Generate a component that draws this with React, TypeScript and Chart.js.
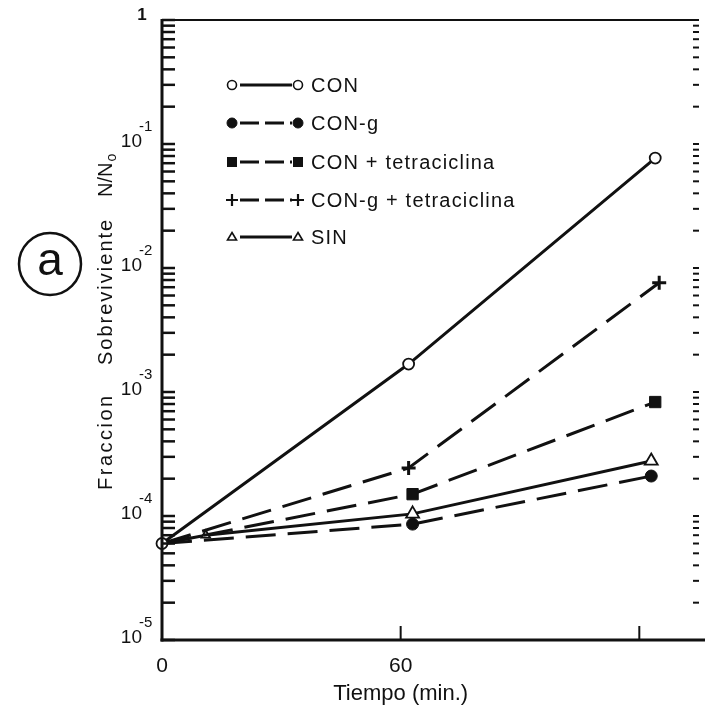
import { useEffect, useRef } from 'react';
import { Chart, registerables } from 'chart.js';

Chart.register(...registerables);

// Survival fraction N/No versus time (min) for each treatment
const seriesNames = ['CON', 'CON-g', 'CON + tetraciclina', 'CON-g + tetraciclina', 'SIN'];

const conTimes = [0, 62, 124];
const conValues = [6.0e-5, 1.68e-3, 7.7e-2];

const conGTimes = [0, 63, 123];
const conGValues = [6.0e-5, 8.6e-5, 2.1e-4];

const conTetraTimes = [0, 63, 124];
const conTetraValues = [6.0e-5, 1.5e-4, 8.3e-4];

const conGTetraTimes = [0, 62, 125];
const conGTetraValues = [6.0e-5, 2.44e-4, 7.6e-3];

const sinTimes = [0, 11, 63, 123];
const sinValues = [6.0e-5, 7.0e-5, 1.04e-4, 2.78e-4];

// Axis ticks
const xTickValues = [0, 60, 120];
const xTickLabels = ['0', '60', ''];
const yDecadeValues = [1e-5, 1e-4, 1e-3, 1e-2, 1e-1, 1];
const yDecadeExponents = ['-5', '-4', '-3', '-2', '-1', ''];
const yMantissas = [2, 3, 4, 5, 6, 7, 8, 9];

const INK = '#111';
const FONT = '"Liberation Sans", Arial, sans-serif';
const DASH = [30, 12];

const toPoints = (xs: number[], ys: number[]) => xs.map((x, i) => ({ x, y: ys[i] }));

type MarkerStyle = 'circle' | 'rect' | 'cross' | 'triangle';

function drawMarker(
  ctx: CanvasRenderingContext2D,
  style: MarkerStyle,
  x: number,
  y: number,
  r: number,
  filled: boolean,
  lw: number
) {
  ctx.save();
  ctx.setLineDash([]);
  ctx.lineWidth = lw;
  ctx.strokeStyle = INK;
  ctx.fillStyle = filled ? INK : '#fff';
  ctx.beginPath();
  if (style === 'circle') {
    ctx.arc(x, y, r, 0, Math.PI * 2);
    ctx.fill();
    ctx.stroke();
  } else if (style === 'rect') {
    ctx.rect(x - r, y - r, 2 * r, 2 * r);
    ctx.fill();
  } else if (style === 'cross') {
    ctx.moveTo(x - r, y);
    ctx.lineTo(x + r, y);
    ctx.moveTo(x, y - r);
    ctx.lineTo(x, y + r);
    ctx.stroke();
  } else {
    const h = r * 1.5;
    ctx.moveTo(x, y - h * 0.6);
    ctx.lineTo(x + r * 0.9, y + h * 0.4);
    ctx.lineTo(x - r * 0.9, y + h * 0.4);
    ctx.closePath();
    ctx.fill();
    ctx.stroke();
  }
  ctx.restore();
}

const legendRowsY = [85, 123, 162, 200, 237];
const legendMarkers: { style: MarkerStyle; filled: boolean; r: number; lw: number; dashed: boolean }[] = [
  { style: 'circle', filled: false, r: 4.5, lw: 1.6, dashed: false },
  { style: 'circle', filled: true, r: 5, lw: 1, dashed: true },
  { style: 'rect', filled: true, r: 5, lw: 1, dashed: true },
  { style: 'cross', filled: true, r: 6, lw: 2.2, dashed: true },
  { style: 'triangle', filled: false, r: 5, lw: 1.6, dashed: false },
];

const decorPlugin = {
  id: 'decor',
  afterDraw(chart: any) {
    const { ctx, chartArea: a, scales } = chart;
    const xs = scales.x;
    const ys = scales.y;
    const line = (x1: number, y1: number, x2: number, y2: number) => {
      ctx.beginPath();
      ctx.moveTo(x1, y1);
      ctx.lineTo(x2, y2);
      ctx.stroke();
    };
    ctx.save();
    ctx.strokeStyle = INK;
    ctx.fillStyle = INK;
    ctx.setLineDash([]);

    // Frame
    ctx.lineWidth = 3;
    line(a.left, a.top - 1, a.left, a.bottom + 1.5);
    line(a.left - 1.5, a.bottom, chart.width, a.bottom);
    ctx.lineWidth = 2;
    line(a.left, a.top, a.right, a.top);

    // Logarithmic ticks, inward on the left, short marks on the right
    yDecadeValues.forEach((d, di) => {
      const vals = [d];
      if (di < yDecadeValues.length - 1) yMantissas.forEach((m) => vals.push(m * d));
      vals.forEach((v) => {
        const py = ys.getPixelForValue(v);
        ctx.lineWidth = 2.5;
        line(a.left, py, a.left + 13, py);
        ctx.lineWidth = 2;
        line(a.right - 2, py, a.right + 4, py);
      });
    });

    // Decade labels
    ctx.textBaseline = 'alphabetic';
    yDecadeValues.forEach((v, i) => {
      const py = ys.getPixelForValue(v);
      if (yDecadeExponents[i] === '') {
        ctx.font = `bold 17px ${FONT}`;
        ctx.textAlign = 'center';
        ctx.fillText('1', 142, py);
        return;
      }
      ctx.font = `19px ${FONT}`;
      ctx.textAlign = 'right';
      ctx.fillText('10', 142, py + 3);
      ctx.font = `15px ${FONT}`;
      ctx.textAlign = 'left';
      ctx.fillText(yDecadeExponents[i], 139, py - 13);
    });

    // Time ticks and labels
    ctx.font = `21px ${FONT}`;
    ctx.textAlign = 'center';
    xTickValues.forEach((v, i) => {
      const px = xs.getPixelForValue(v);
      if (v > 0) {
        ctx.lineWidth = 2;
        line(px, a.bottom, px, a.bottom - 14);
      }
      if (xTickLabels[i]) ctx.fillText(xTickLabels[i], px, 672);
    });

    // Axis titles
    ctx.font = `22px ${FONT}`;
    ctx.fillText('Tiempo (min.)', xs.getPixelForValue(60), 700);

    ctx.save();
    ctx.translate(112, 490);
    ctx.rotate(-Math.PI / 2);
    ctx.textAlign = 'left';
    ctx.font = `20px ${FONT}`;
    (ctx as any).letterSpacing = '2.5px';
    ctx.fillText('Fraccion', 0, 0);
    (ctx as any).letterSpacing = '2px';
    ctx.fillText('Sobreviviente', 125, 0);
    (ctx as any).letterSpacing = '0px';
    ctx.fillText('N/N', 293, 0);
    const w = ctx.measureText('N/N').width;
    ctx.font = `14px ${FONT}`;
    ctx.fillText('o', 293 + w + 1, 4);
    ctx.restore();

    // Legend
    const x1 = 232;
    const x2 = 298;
    chart.data.datasets.forEach((ds: any, i: number) => {
      const y = legendRowsY[i];
      const m = legendMarkers[i];
      ctx.lineWidth = 3;
      ctx.setLineDash(m.dashed ? [19, 6] : []);
      line(x1 + 8, y, x2 - 6, y);
      ctx.setLineDash([]);
      drawMarker(ctx, m.style, x1, y, m.r, m.filled, m.lw);
      drawMarker(ctx, m.style, x2, y, m.r, m.filled, m.lw);
      ctx.font = `20px ${FONT}`;
      ctx.textAlign = 'left';
      ctx.textBaseline = 'middle';
      (ctx as any).letterSpacing = '1.2px';
      ctx.fillText(ds.label, x2 + 13, y + 1);
      (ctx as any).letterSpacing = '0px';
    });

    // Panel label
    ctx.lineWidth = 2.5;
    ctx.beginPath();
    ctx.arc(50, 264, 31, 0, Math.PI * 2);
    ctx.stroke();
    ctx.font = `46px ${FONT}`;
    ctx.textAlign = 'center';
    ctx.textBaseline = 'middle';
    ctx.fillText('a', 50, 262);

    ctx.restore();
  },
};

export default function App() {
  const ref = useRef<HTMLCanvasElement>(null);

  useEffect(() => {
    const common = {
      borderColor: INK,
      borderWidth: 3,
      pointBorderColor: INK,
      tension: 0,
      clip: false as any,
    };
    const chart = new Chart(ref.current!, {
      type: 'line',
      data: {
        datasets: [
          {
            ...common,
            label: seriesNames[0],
            data: toPoints(conTimes, conValues),
            pointStyle: 'circle',
            pointRadius: 5.5,
            pointBackgroundColor: '#fff',
            pointBorderWidth: 1.8,
          },
          {
            ...common,
            label: seriesNames[1],
            data: toPoints(conGTimes, conGValues),
            borderDash: DASH,
            pointStyle: 'circle',
            pointRadius: [0, 6, 6],
            pointBackgroundColor: INK,
            pointBorderWidth: 1,
          },
          {
            ...common,
            label: seriesNames[2],
            data: toPoints(conTetraTimes, conTetraValues),
            borderDash: DASH,
            pointStyle: 'rect',
            pointRadius: [0, 8, 8],
            pointBackgroundColor: INK,
            pointBorderWidth: 1,
          },
          {
            ...common,
            label: seriesNames[3],
            data: toPoints(conGTetraTimes, conGTetraValues),
            borderDash: DASH,
            pointStyle: 'cross',
            pointRadius: [0, 7, 7],
            pointBorderWidth: 3,
          },
          {
            ...common,
            label: seriesNames[4],
            data: toPoints(sinTimes, sinValues),
            pointStyle: 'triangle',
            pointRadius: [0, 5, 7.5, 7.5],
            pointBackgroundColor: '#fff',
            pointBorderWidth: 1.8,
          },
        ],
      },
      options: {
        responsive: false,
        devicePixelRatio: 1,
        animation: false,
        layout: { padding: { left: 162, top: 20, right: 5, bottom: 74 } },
        plugins: { legend: { display: false }, tooltip: { enabled: false } },
        scales: {
          x: { type: 'linear', display: false, min: 0, max: 134 },
          y: { type: 'logarithmic', display: false, min: 1e-5, max: 1 },
        },
      },
      plugins: [decorPlugin],
    });
    return () => chart.destroy();
  }, []);

  return (
    <div style={{ position: 'fixed', left: 0, top: 0, width: 705, height: 714, background: '#fff' }}>
      <canvas ref={ref} width={705} height={714} style={{ display: 'block' }} />
    </div>
  );
}
